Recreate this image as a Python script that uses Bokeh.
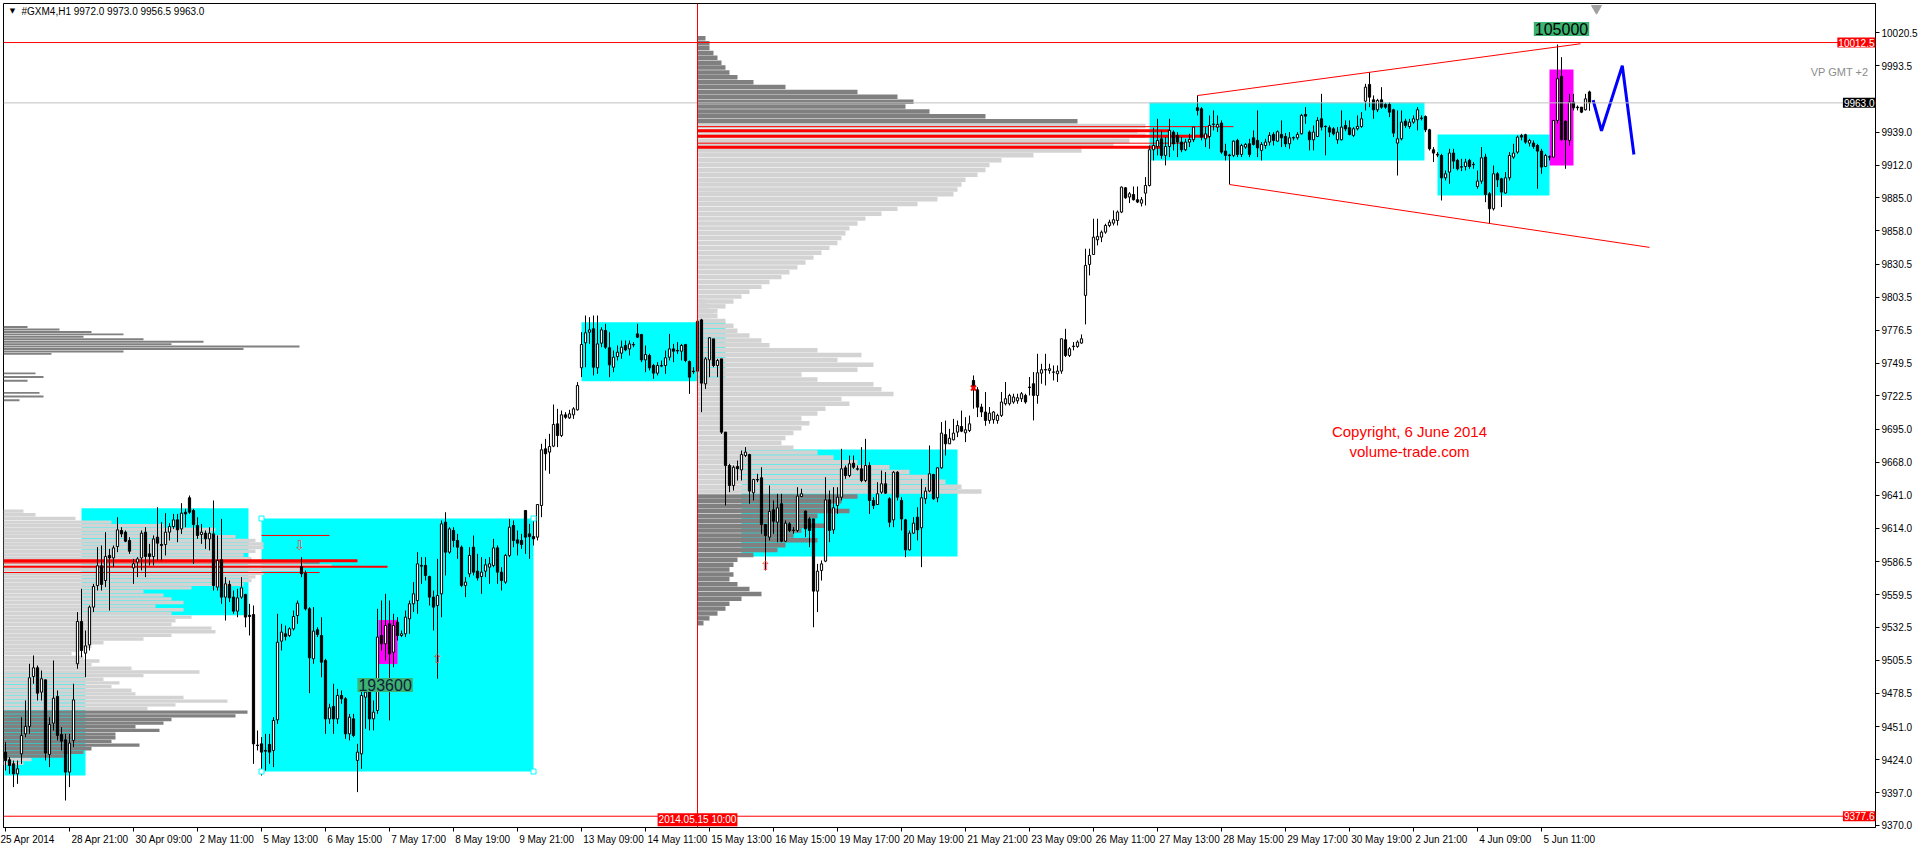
from bokeh.plotting import figure
from bokeh.models import Range1d, FixedTicker, Span, Label, PrintfTickFormatter
from bokeh.embed import file_html
from bokeh.resources import INLINE

# ---------------- candle data (H1 bars, 25 Apr 19:00 .. 6 Jun 09:00) ----------------
opens = [9430.2,9423.9,9420.6,9412.4,9428.8,9445.2,9451.3,9492.3,9499.4,9479.4,9489.5,9428.3,9454.0,9475.9,9444.7,9440.3,9413.8,9439.8,9502.7,9537.4,
9511.4,9518.2,9549.2,9566.9,9583.1,9571.0,9591.6,9589.6,9598.9,9612.1,9610.7,9603.9,9581.4,9586.1,9589.6,9610.7,9592.9,9590.7,9606.6,9600.6,
9600.6,9610.7,9615.3,9620.8,9613.4,9627.1,9638.9,9628.5,9616.2,9608.8,9609.9,9605.2,9609.3,9565.6,9588.0,9557.4,9567.8,9557.4,9545.9,9557.4,
9559.6,9542.5,9543.1,9436.0,9437.0,9431.6,9436.5,9431.6,9456.7,9521.3,9527.3,9525.9,9531.4,9542.3,9582.5,9577.1,9547.8,9506.8,9530.6,9525.9,
9505.4,9457.5,9467.7,9457.5,9476.7,9474.0,9445.2,9457.5,9423.4,9428.8,9475.3,9480.8,9457.5,9464.4,9525.9,9519.1,9535.5,9512.2,9536.8,9525.9,
9527.3,9539.6,9551.9,9554.6,9583.4,9583.4,9574.3,9557.4,9550.5,9560.1,9618.9,9594.3,9612.1,9603.9,9598.4,9567.0,9576.5,9598.4,9578.7,9574.3,
9578.7,9582.0,9583.4,9597.8,9577.9,9569.7,9591.6,9616.2,9604.4,9603.9,9628.5,9609.3,9607.1,9606.6,9632.6,9679.1,9676.4,9681.3,9699.6,9690.0,
9707.0,9704.5,9707.0,9711.1,9745.6,9766.1,9774.8,9777.6,9745.6,9765.8,9776.2,9762.0,9746.1,9754.8,9757.6,9763.9,9761.1,9764.4,9773.4,9772.9,
9752.1,9755.7,9747.5,9741.2,9747.0,9747.5,9754.3,9761.1,9759.8,9759.2,9764.7,9750.7,9742.8,9742.8,9784.9,9732.4,9752.1,9769.3,9747.5,9752.9,
9692.8,9665.4,9649.0,9664.6,9661.8,9673.6,9674.4,9643.0,9653.9,9655.3,9617.0,9606.6,9629.0,9618.9,9634.0,9603.3,9617.5,9612.1,9612.1,9640.0,
9628.0,9621.6,9621.6,9562.3,9579.3,9586.9,9637.2,9612.6,9632.6,9639.4,9663.5,9657.2,9667.3,9662.7,9662.7,9653.1,9665.4,9636.7,9633.4,9643.5,
9650.4,9638.1,9620.8,9659.9,9636.7,9620.8,9596.2,9609.9,9623.0,9614.3,9638.1,9644.4,9658.0,9638.9,9663.5,9690.8,9683.2,9686.5,9692.8,9697.4,
9692.2,9694.1,9735.2,9727.5,9713.4,9709.3,9702.4,9703.0,9702.4,9706.5,9716.1,9716.1,9717.5,9718.5,9720.2,9722.9,9729.4,9732.5,9722.9,9741.2,
9743.8,9743.4,9742.1,9740.7,9742.9,9768.6,9755.7,9763.0,9763.1,9765.9,9805.0,9830.4,9838.6,9850.6,9852.8,9856.9,9862.4,9864.3,9866.5,9873.4,
9893.3,9885.7,9887.8,9883.5,9880.7,9888.9,9895.2,9924.5,9927.2,9933.5,9919.9,9927.2,9939.0,9936.3,9930.8,9924.5,9930.8,9932.7,9959.0,9958.1,
9933.5,9935.4,9945.3,9943.1,9946.4,9923.4,9920.2,9919.9,9932.2,9920.7,9926.7,9929.4,9934.3,9932.2,9924.0,9928.0,9930.8,9937.1,9931.6,9937.1,
9935.4,9929.4,9934.2,9934.3,9937.6,9953.5,9939.0,9932.7,9935.4,9949.9,9943.7,9942.6,9941.7,9932.7,9932.7,9944.5,9942.6,9936.3,9941.7,9943.6,
9964.4,9978.1,9965.5,9957.3,9965.5,9961.7,9961.7,9957.3,9930.0,9933.5,9948.0,9943.6,9947.2,9949.1,9950.5,9951.8,9940.9,9924.5,9920.8,9919.8,
9901.5,9906.2,9921.8,9915.8,9910.5,9910.8,9915.8,9912.5,9894.4,9898.8,9918.5,9888.4,9876.1,9904.8,9900.7,9889.0,9901.5,9918.5,9922.6,9936.3,
9936.8,9930.0,9930.0,9928.0,9923.4,9910.8,9918.5,9918.5,9948.6,9984.7,9948.0,9932.2,9963.6,9959.5,9959.5,9957.3,9972.0]
highs = [9438.4,9426.1,9423.3,9423.3,9458.9,9472.6,9502.7,9509.5,9501.3,9497.2,9489.5,9458.9,9505.4,9480.8,9450.7,9445.2,9445.2,9486.3,9545.1,9564.2,
9530.0,9550.5,9568.3,9598.4,9599.8,9610.7,9597.0,9599.8,9623.0,9614.8,9612.1,9606.6,9588.8,9590.2,9612.1,9614.8,9601.1,9608.0,9631.2,9618.9,
9626.3,9618.1,9625.7,9625.7,9634.5,9629.8,9640.8,9629.8,9623.0,9617.5,9612.1,9614.8,9636.7,9608.0,9621.6,9573.8,9571.0,9562.8,9564.2,9573.8,
9560.1,9551.9,9550.5,9448.0,9442.5,9445.2,9445.2,9458.9,9543.7,9535.5,9534.1,9532.7,9546.4,9554.6,9590.2,9579.3,9549.2,9549.2,9532.7,9540.9,
9506.8,9469.9,9486.3,9482.1,9480.8,9475.3,9461.6,9461.6,9437.0,9480.8,9486.3,9486.3,9472.6,9547.8,9554.6,9560.1,9554.6,9543.7,9541.0,9530.0,
9546.4,9554.6,9569.7,9594.3,9590.2,9590.2,9575.0,9562.8,9588.8,9620.3,9627.1,9614.8,9614.8,9609.3,9599.8,9573.8,9598.4,9608.0,9592.9,9590.2,
9588.8,9590.2,9605.2,9599.8,9582.0,9592.9,9621.6,9620.3,9612.1,9609.3,9628.5,9617.5,9621.6,9633.4,9683.2,9687.3,9691.4,9715.5,9711.9,9710.5,
9709.2,9711.1,9713.3,9733.8,9774.8,9788.5,9787.1,9788.5,9788.5,9778.9,9781.7,9774.8,9759.8,9763.9,9768.0,9768.0,9768.0,9766.6,9781.7,9773.4,
9763.9,9757.1,9748.8,9750.2,9751.6,9759.8,9773.4,9765.2,9766.6,9765.2,9765.2,9751.6,9746.1,9784.9,9785.8,9754.3,9770.7,9769.3,9752.9,9752.9,
9692.8,9666.8,9665.4,9669.5,9677.7,9680.5,9675.0,9654.5,9658.6,9664.0,9617.0,9649.0,9636.7,9642.2,9642.2,9620.3,9618.9,9614.8,9647.6,9646.3,
9628.5,9623.0,9621.6,9584.7,9587.5,9655.8,9644.9,9647.6,9647.6,9679.1,9665.4,9673.6,9673.6,9665.4,9680.5,9687.3,9668.1,9639.4,9651.7,9661.3,
9660.0,9639.4,9660.8,9660.8,9639.4,9621.6,9612.1,9623.0,9631.2,9654.5,9647.6,9681.8,9658.6,9664.0,9701.0,9702.3,9695.5,9703.7,9702.3,9710.5,
9705.1,9706.4,9739.3,9729.7,9716.1,9725.7,9713.4,9710.1,9707.9,9725.7,9733.9,9724.3,9724.3,9724.3,9725.7,9724.3,9738.0,9742.1,9757.1,9748.9,
9757.1,9748.9,9747.5,9747.5,9769.4,9777.6,9762.6,9766.7,9768.1,9773.0,9843.3,9843.3,9867.9,9867.9,9858.3,9863.8,9867.1,9874.7,9874.7,9894.4,
9893.9,9889.8,9894.4,9894.4,9885.7,9902.1,9928.0,9942.6,9949.9,9940.4,9934.9,9949.9,9940.4,9939.0,9934.9,9933.5,9937.6,9943.1,9969.1,9959.5,
9943.1,9952.7,9956.8,9952.7,9948.6,9929.4,9921.2,9932.2,9933.5,9929.4,9930.0,9933.5,9940.4,9956.8,9930.8,9933.5,9939.0,9939.0,9940.4,9948.6,
9938.2,9939.0,9935.4,9939.0,9954.0,9959.5,9940.4,9944.5,9951.3,9970.4,9944.5,9944.5,9943.1,9943.1,9956.8,9948.6,9948.6,9943.1,9952.7,9955.4,
9978.6,9988.2,9969.1,9966.3,9975.9,9962.8,9963.6,9958.1,9956.8,9956.8,9949.9,9949.9,9952.7,9959.5,9952.7,9952.7,9941.7,9926.7,9922.6,9921.2,
9907.5,9925.3,9925.3,9917.1,9917.1,9917.1,9917.1,9914.4,9907.5,9926.7,9921.2,9889.8,9911.6,9906.2,9901.5,9906.2,9922.6,9929.4,9936.3,9937.6,
9937.6,9933.5,9932.2,9929.4,9925.3,9921.2,9919.8,9948.6,10010.9,10000.5,9948.6,9970.4,9970.4,9960.9,9959.5,9970.4,9973.0]
lows = [9415.1,9412.4,9401.5,9404.2,9420.6,9442.5,9445.2,9486.3,9472.6,9472.6,9423.3,9417.9,9448.0,9439.8,9431.6,9390.5,9401.5,9434.3,9498.6,9508.1,
9491.7,9513.6,9545.1,9562.8,9562.8,9565.6,9546.4,9582.0,9594.3,9606.6,9602.5,9592.9,9568.3,9573.8,9579.3,9573.8,9583.4,9583.4,9587.5,9587.5,
9591.6,9603.9,9613.4,9602.5,9609.3,9614.8,9625.7,9584.7,9605.2,9601.1,9597.0,9595.7,9562.8,9562.8,9551.9,9538.2,9553.3,9543.7,9540.9,9556.0,
9532.7,9525.9,9420.6,9431.6,9411.0,9415.1,9420.6,9417.9,9453.4,9513.6,9521.8,9524.6,9530.0,9535.5,9573.8,9546.4,9478.6,9502.7,9524.6,9491.7,
9445.2,9453.4,9445.2,9453.4,9469.9,9441.1,9439.8,9442.5,9397.4,9416.5,9449.3,9448.0,9448.0,9461.6,9513.6,9505.4,9456.2,9499.9,9521.8,9524.6,
9524.6,9527.3,9545.1,9543.7,9568.3,9571.0,9550.5,9530.0,9490.4,9540.9,9575.2,9593.0,9598.4,9588.8,9565.6,9557.4,9573.8,9575.2,9571.0,9560.1,
9573.8,9568.3,9582.0,9568.3,9562.8,9568.3,9590.2,9598.4,9591.6,9597.0,9592.9,9588.8,9599.8,9603.9,9623.0,9661.3,9658.6,9680.5,9680.5,9688.7,
9703.7,9703.7,9703.7,9710.5,9737.9,9746.1,9765.2,9739.3,9740.6,9762.5,9761.1,9737.9,9742.0,9751.6,9753.0,9759.2,9755.7,9762.5,9770.2,9750.2,
9742.0,9743.4,9736.5,9739.3,9746.1,9740.6,9751.6,9750.2,9757.0,9751.6,9750.2,9724.2,9740.6,9740.6,9709.2,9728.3,9737.9,9746.1,9737.9,9691.4,
9632.6,9643.5,9644.9,9653.1,9653.1,9672.3,9634.0,9636.7,9651.7,9609.3,9579.3,9603.9,9609.3,9602.5,9602.5,9602.5,9610.7,9609.3,9610.7,9639.4,
9606.6,9598.4,9532.7,9545.1,9571.0,9586.1,9602.5,9609.3,9625.7,9636.7,9654.5,9655.8,9662.7,9661.3,9651.7,9651.7,9625.7,9629.8,9633.4,9642.2,
9642.2,9614.8,9614.8,9636.7,9612.1,9590.2,9595.7,9609.3,9603.9,9582.0,9634.0,9643.5,9637.2,9635.3,9662.7,9673.6,9683.2,9686.0,9688.7,9692.8,
9684.6,9692.8,9712.0,9705.1,9705.2,9698.0,9699.7,9699.7,9699.7,9705.2,9714.7,9714.7,9716.1,9716.1,9717.5,9716.1,9722.9,9702.4,9716.1,9732.5,
9731.1,9740.7,9735.2,9733.9,9740.7,9754.4,9754.4,9759.9,9762.0,9765.3,9781.2,9821.4,9838.6,9846.0,9848.7,9855.6,9861.0,9862.4,9862.4,9872.5,
9884.3,9880.7,9882.9,9880.7,9878.0,9878.8,9894.4,9915.8,9919.9,9917.1,9911.7,9918.5,9923.9,9918.5,9922.5,9923.4,9926.7,9930.8,9952.7,9932.2,
9926.7,9925.3,9940.4,9939.0,9921.2,9915.8,9896.1,9918.5,9918.5,9918.5,9925.3,9918.5,9928.0,9918.5,9915.8,9925.3,9928.0,9928.0,9930.8,9926.7,
9926.7,9925.3,9932.2,9932.7,9937.1,9945.8,9924.0,9924.0,9934.9,9940.4,9919.9,9934.9,9936.3,9929.4,9932.2,9939.8,9936.3,9934.9,9940.4,9942.5,
9956.8,9959.5,9949.9,9955.4,9958.1,9958.1,9951.3,9934.9,9903.4,9932.2,9942.5,9941.7,9945.8,9940.4,9948.6,9939.0,9923.9,9914.4,9918.5,9882.9,
9899.3,9896.6,9908.9,9907.5,9907.0,9907.5,9908.9,9908.9,9892.5,9896.6,9881.5,9863.8,9874.7,9893.9,9877.5,9888.4,9899.3,9917.1,9921.2,9932.2,
9929.4,9927.2,9925.3,9892.5,9904.8,9910.3,9915.8,9918.5,9946.0,9932.2,9908.9,9928.0,9956.8,9956.8,9954.6,9956.8,9956.5]
closes = [9423.3,9419.2,9412.4,9416.5,9443.9,9451.3,9491.2,9499.4,9478.6,9490.4,9429.4,9452.9,9474.5,9443.9,9439.2,9413.8,9437.6,9473.1,9537.4,9513.6,
9517.4,9549.2,9566.1,9583.1,9567.8,9590.7,9589.6,9597.8,9612.6,9609.3,9603.3,9595.1,9584.8,9588.8,9609.9,9590.7,9590.7,9605.2,9601.7,9599.8,
9610.7,9615.3,9620.8,9612.6,9626.3,9625.7,9627.1,9617.0,9608.0,9610.7,9605.2,9609.9,9566.9,9587.5,9557.4,9568.3,9556.8,9545.9,9556.8,9565.0,
9541.0,9541.5,9437.0,9435.6,9430.2,9431.0,9430.2,9456.2,9520.4,9528.7,9525.1,9531.4,9541.5,9552.4,9576.5,9547.8,9507.6,9529.5,9526.7,9504.0,
9457.5,9466.6,9457.5,9476.7,9474.0,9445.2,9458.9,9443.9,9430.2,9476.7,9479.4,9457.5,9463.0,9524.6,9519.1,9534.1,9510.9,9534.1,9525.9,9527.3,
9541.0,9551.9,9560.1,9584.7,9582.8,9575.2,9557.4,9549.2,9558.7,9617.5,9594.3,9613.4,9603.9,9598.4,9567.0,9569.7,9591.6,9577.9,9573.2,9577.9,
9583.9,9584.7,9597.8,9577.9,9571.0,9591.6,9614.8,9603.9,9601.7,9600.6,9606.6,9607.1,9605.2,9633.4,9678.3,9675.0,9681.0,9699.1,9690.0,9707.0,
9705.0,9707.8,9711.9,9731.0,9764.7,9774.3,9776.7,9746.1,9765.2,9776.7,9762.5,9748.0,9754.3,9758.4,9762.5,9760.3,9765.2,9764.7,9770.7,9752.1,
9756.5,9745.6,9741.2,9747.5,9747.5,9753.8,9761.1,9759.2,9759.4,9763.9,9751.6,9737.9,9742.4,9783.8,9733.0,9752.9,9770.2,9747.5,9751.6,9692.8,
9665.4,9649.0,9664.0,9662.7,9674.4,9676.4,9644.4,9653.9,9653.6,9617.0,9608.0,9627.7,9619.7,9630.7,9603.3,9618.1,9612.1,9612.4,9640.3,9642.2,
9613.4,9612.1,9562.3,9578.7,9584.7,9637.2,9612.1,9630.7,9639.4,9662.7,9657.2,9666.8,9664.0,9662.4,9653.1,9665.4,9636.7,9632.6,9642.2,9650.4,
9642.7,9618.9,9659.9,9639.4,9621.6,9596.2,9609.9,9618.1,9612.6,9638.9,9644.4,9658.6,9638.1,9663.5,9692.0,9683.2,9687.8,9692.0,9698.2,9693.6,
9694.7,9699.6,9727.5,9713.3,9709.3,9702.4,9708.4,9709.3,9706.5,9717.5,9720.2,9722.9,9721.6,9721.0,9724.3,9717.5,9729.8,9722.9,9741.5,9744.0,
9744.2,9744.8,9742.0,9742.9,9769.4,9755.7,9761.2,9763.4,9766.7,9769.4,9829.6,9837.8,9852.8,9853.4,9856.9,9862.4,9865.1,9867.1,9873.4,9893.9,
9885.1,9888.4,9883.5,9881.6,9883.5,9895.2,9924.5,9928.0,9932.2,9919.9,9927.2,9940.4,9929.4,9930.8,9924.5,9930.8,9933.0,9943.1,9956.8,9934.9,
9937.6,9944.5,9945.6,9945.3,9922.6,9919.9,9919.7,9931.6,9920.7,9928.0,9928.9,9920.7,9928.9,9926.1,9928.9,9930.8,9936.3,9932.2,9939.3,9934.3,
9929.4,9934.3,9934.5,9937.1,9952.7,9952.1,9932.7,9939.0,9948.6,9943.1,9943.5,9939.0,9937.6,9939.0,9943.1,9941.7,9937.1,9941.7,9943.7,9949.9,
9975.9,9967.7,9957.3,9965.0,9959.5,9959.5,9955.4,9938.2,9933.5,9947.2,9944.5,9947.2,9949.9,9957.3,9950.3,9940.9,9925.3,9921.8,9920.2,9901.5,
9904.8,9921.8,9915.2,9908.9,9910.3,9914.4,9910.8,9912.3,9898.8,9917.9,9887.8,9876.1,9904.8,9899.9,9889.8,9901.5,9919.8,9921.8,9934.9,9934.9,
9930.8,9932.2,9927.2,9923.4,9910.3,9919.8,9918.8,9948.6,9982.8,9932.7,9932.7,9963.6,9958.9,9959.0,9955.4,9966.3,9963.0]

time_labels = ["25 Apr 2014", "28 Apr 21:00", "30 Apr 09:00", "2 May 11:00", "5 May 13:00", "6 May 15:00",
               "7 May 17:00", "8 May 19:00", "9 May 21:00", "13 May 09:00", "14 May 11:00", "15 May 13:00",
               "16 May 15:00", "19 May 17:00", "20 May 19:00", "21 May 21:00", "23 May 09:00", "26 May 11:00",
               "27 May 13:00", "28 May 15:00", "29 May 17:00", "30 May 19:00", "2 Jun 21:00", "4 Jun 09:00",
               "5 Jun 11:00"]
bars_per_label = 16
y_ticks = [10020.5, 9993.5, 9939.0, 9912.0, 9885.0, 9858.0, 9830.5, 9803.5, 9776.5, 9749.5, 9722.5,
           9695.0, 9668.0, 9641.0, 9614.0, 9586.5, 9559.5, 9532.5, 9505.5, 9478.5, 9451.0, 9424.0, 9397.0, 9370.0]

# rectangles (bar index / price)
box_left = [-0.25, 19, 64, 144, 184, 286, 358]
box_right = [20, 60.75, 132, 180, 238, 354.75, 386]
box_bottom = [9411.0, 9542.5, 9414.3, 9734.5, 9590.8, 9915.7, 9887.0]
box_top = [9496.4, 9630.3, 9621.9, 9782.9, 9678.6, 9963.3, 9937.0]
mag_left = [93.25, 386]
mag_right = [98, 392]
mag_bottom = [9502.5, 9911.6]
mag_top = [9538.6, 9990.4]

# volume profiles
vp_left_top, vp_left_step = 9628, 3
vp_left_len = [5, 8, 18, 27, 40, 53, 52, 58, 63, 65, 65, 63, 60, 62, 75, 82, 75, 65, 63, 62,
               60, 47, 35, 40, 42, 45, 38, 45, 42, 47, 43, 42, 52, 53, 42, 35, 25, 22, 19, 17,
               20, 24, 22, 32, 49, 35, 25, 29, 27, 32, 33, 45, 56, 43, 36, 61, 58, 42, 40, 33,
               39, 28, 28, 27, 34, 22, 20, 15, 7, 5]
vp_left_dark = (55, 67)
vp_l2_price = [9779, 9777, 9775, 9773, 9771, 9769, 9767, 9765, 9763, 9761, 9759, 9757, 9741, 9738, 9735, 9725, 9722, 9719]
vp_l2_len = [6, 14, 22, 30, 20, 35, 50, 42, 74, 60, 30, 12, 8, 10, 6, 9, 10, 4]
vp_top_top, vp_top_step = 10016, 4
vp_top_len = [2, 3, 3, 4, 5, 6, 7, 8, 10, 14, 22, 40, 50, 54, 52, 58, 72, 95,
              112, 110, 112, 108, 104, 96, 84, 76, 73, 72, 70, 67, 66, 65, 64, 60, 55, 50, 46, 42,
              40, 38, 37, 36, 35, 33, 31, 29, 27, 25, 23, 21, 18, 16, 13, 11, 9, 7, 5, 3]
vp_top_dark = (0, 17)
vp_mid_top, vp_mid_step = 9800, 4
vp_mid_len = [2, 3, 4, 5, 7, 9, 10, 13, 16, 18, 30, 41, 35, 44, 40, 26, 30, 44, 46, 49,
              36, 38, 32, 30, 26, 28, 26, 24, 22, 21, 24, 30, 34, 40, 48, 53, 58, 62, 66, 71,
              40, 36, 33, 38, 30, 28, 32, 26, 24, 30, 22, 20, 14, 10, 9, 8, 9, 8, 10, 13,
              16, 11, 8, 7, 5, 3, 1.5]
vp_mid_dark = (40, 66)
session_bar = 173

red_left_price = [9587.3, 9585.5, 9582.4, 9577.6]
red_left_len = [88.5, 79, 96, 79]
red_left_w = [3, 1, 2, 1]
red_mid_price = [9943.5, 9940.2, 9935.7, 9929.9, 9926.6]
red_mid_len = [134, 118, 128, 122, 116]
red_mid_w = [1, 3, 3, 1, 3]

trend_up_x, trend_up_y = [298, 393.75], [9969.0, 10011.5]
trend_dn_x, trend_dn_y = [306, 411], [9896.0, 9844.4]
zig_x = [396.9, 399.0, 404.2, 407.1]
zig_y = [9965.3, 9940.1, 9993.5, 9920.6]

FONT = "Liberation Sans"
FS = 10
n = len(closes)
idx = list(range(n))

X_END = 467.5
Y_START, Y_END = 9368.35, 10044.54
p = figure(frame_width=1872, frame_height=824, x_range=Range1d(-0.5, X_END), y_range=Range1d(Y_START, Y_END),
           y_axis_location="right", output_backend="svg", toolbar_location=None,
           min_border_left=3, min_border_right=0, min_border_top=3, min_border_bottom=0,
           background_fill_color="white", border_fill_color="white")
p.xgrid.visible = False
p.ygrid.visible = False
p.outline_line_color = "black"
p.outline_line_width = 1

# boxes
p.quad(left=box_left, right=box_right, bottom=box_bottom, top=box_top, fill_color="#00FFFF", line_color=None)
p.quad(left=mag_left, right=mag_right, bottom=mag_bottom, top=mag_top, fill_color="#FF00FF", line_color=None)


def profile(anchor, top, step, lens, dark):
    ys = [top - step * k for k in range(len(lens))]
    lc = [("#808080" if dark[0] <= k <= dark[1] else "#D3D3D3") for k in range(len(lens))]
    p.hbar(y=ys, left=anchor, right=[anchor + v for v in lens], height=step * 0.92,
           fill_color=lc, line_color=None)


profile(-0.5, vp_left_top, vp_left_step, vp_left_len, vp_left_dark)
p.hbar(y=vp_l2_price, left=-0.5, right=[-0.5 + v for v in vp_l2_len], height=1.6, fill_color="#808080", line_color=None)
profile(session_bar, vp_top_top, vp_top_step, vp_top_len, vp_top_dark)
profile(session_bar, vp_mid_top, vp_mid_step, vp_mid_len, vp_mid_dark)

# red lines of the profiles
p.segment(x0=-0.5, y0=red_left_price, x1=[-0.5 + v for v in red_left_len], y1=red_left_price,
          line_color="red", line_width=red_left_w)
p.segment(x0=box_left[2], y0=9608.0, x1=81, y1=9608.0, line_color="red", line_width=1)
p.segment(x0=session_bar, y0=red_mid_price, x1=[session_bar + v for v in red_mid_len], y1=red_mid_price,
          line_color="red", line_width=red_mid_w)

# level lines
p.add_layout(Span(location=9963.0, dimension="width", line_color="#C0C0C0", line_width=1))
p.add_layout(Span(location=10012.5, dimension="width", line_color="red", line_width=1))
p.add_layout(Span(location=9377.6, dimension="width", line_color="red", line_width=1))
p.add_layout(Span(location=session_bar, dimension="height", line_color="red", line_width=1))

# candles
inc = [i for i in idx if closes[i] >= opens[i]]
dec = [i for i in idx if closes[i] < opens[i]]
p.segment(x0=idx, y0=lows, x1=idx, y1=highs, line_color="black", line_width=1)
p.vbar(x=inc, width=0.55, bottom=[opens[i] for i in inc], top=[closes[i] for i in inc],
       fill_color="white", line_color="black", line_width=1)
p.vbar(x=dec, width=0.55, bottom=[closes[i] for i in dec], top=[opens[i] for i in dec],
       fill_color="black", line_color="black", line_width=1)

# box corner handles
p.scatter(x=[box_left[2], box_right[2], box_left[2], box_right[2]],
          y=[box_top[2], box_top[2], box_bottom[2], box_bottom[2]],
          marker="square", size=5, fill_color="white", line_color="#00FFFF")

# trend lines + forecast
p.line(trend_up_x, trend_up_y, line_color="red", line_width=1)
p.line(trend_dn_x, trend_dn_y, line_color="red", line_width=1)
p.line(zig_x, zig_y, line_color="blue", line_width=3)
p.scatter(x=[242], y=[9729.0], marker="x", size=7, line_color="red", line_width=2)
p.scatter(x=[397.75], y=[10040.5], marker="inverted_triangle", size=10, fill_color="#A0A0A0", line_color="#A0A0A0")

# ---- axes ----
# MT4 writes time labels starting at the tick: pad them on the left with no-break spaces
CW = {":": 278, " ": 278, "A": 667, "p": 556, "r": 333, "M": 833, "a": 556, "y": 500, "J": 500, "u": 556, "n": 556}


def left_start(s):
    w = sum(CW.get(c, 556) for c in s) * FS / 1000.0
    return "\u00a0" * int(round((w + 4) / (0.278 * FS))) + s


p.xaxis.ticker = FixedTicker(ticks=[bars_per_label * k for k in range(len(time_labels))], minor_ticks=[])
p.xaxis.major_label_overrides = {bars_per_label * k: (t if k == 0 else left_start(t))
                                 for k, t in enumerate(time_labels)}
p.yaxis.ticker = FixedTicker(ticks=y_ticks, minor_ticks=[])
p.yaxis.formatter = PrintfTickFormatter(format="%.1f")
for ax in (p.xaxis, p.yaxis):
    ax.axis_line_color = "black"
    ax.major_tick_line_color = "black"
    ax.major_tick_in = 0
    ax.major_tick_out = 4
    ax.minor_tick_out = 0
    ax.major_label_text_font = FONT
    ax.major_label_text_font_size = "%dpx" % FS
    ax.major_label_text_color = "black"
    ax.major_label_standoff = 2


# texts
def lab(x, y, text, **kw):
    opts = dict(text_font=FONT, text_font_size="10px", text_color="black", text_baseline="middle")
    opts.update(kw)
    p.add_layout(Label(x=x, y=y, text=text, **opts))


lab(1.75, 10038.0, "\u25BC", text_font="DejaVu Sans", text_font_size="7px", text_align="center")
lab(4.0, 10038.0, "#GXM4,H1  9972.0 9973.0 9956.5 9963.0")
lab(465.75, 9988.7, "VP GMT +2", text_align="right", text_color="#8C8C8C", text_font_size="11px")
lab(351, 9693.5, "Copyright, 6 June 2014", text_align="center", text_color="red", text_font_size="15px")
lab(351, 9677.2, "volume-trade.com", text_align="center", text_color="red", text_font_size="15px")
lab(389, 10023.6, "105000", text_align="center", text_font_size="16px", background_fill_color="#3CB371", padding=1)
lab(94.9, 9485.3, "193600", text_align="center", text_font_size="16px", text_color="#10203A",
    background_fill_color="#3CB371", padding=1)
lab(73.5, 9600.0, "\u21E9", text_align="center", text_font="DejaVu Sans", text_font_size="13px", text_color="#FF4040")
lab(108, 9507.0, "\u21E7", text_align="center", text_font="DejaVu Sans", text_font_size="13px", text_color="#FF4040")
lab(190, 9583.5, "\u21E7", text_align="center", text_font="DejaVu Sans", text_font_size="13px", text_color="#FF4040")

# price / time tags (kept just inside the chart frame)
lab(X_END, 10012.5, "10012.5", text_align="right", text_color="white", background_fill_color="red", padding=1)
lab(X_END, 9963.0, "9963.0", text_align="right", text_color="white", background_fill_color="black", padding=1)
lab(X_END, 9377.6, "9377.6", text_align="right", text_color="white", background_fill_color="red", padding=1)
lab(session_bar, Y_START + 1.0, "2014.05.15 10:00", text_align="center", text_baseline="bottom", text_color="white",
    background_fill_color="red", padding=1)

open("out.html", "w").write(file_html(p, INLINE))
